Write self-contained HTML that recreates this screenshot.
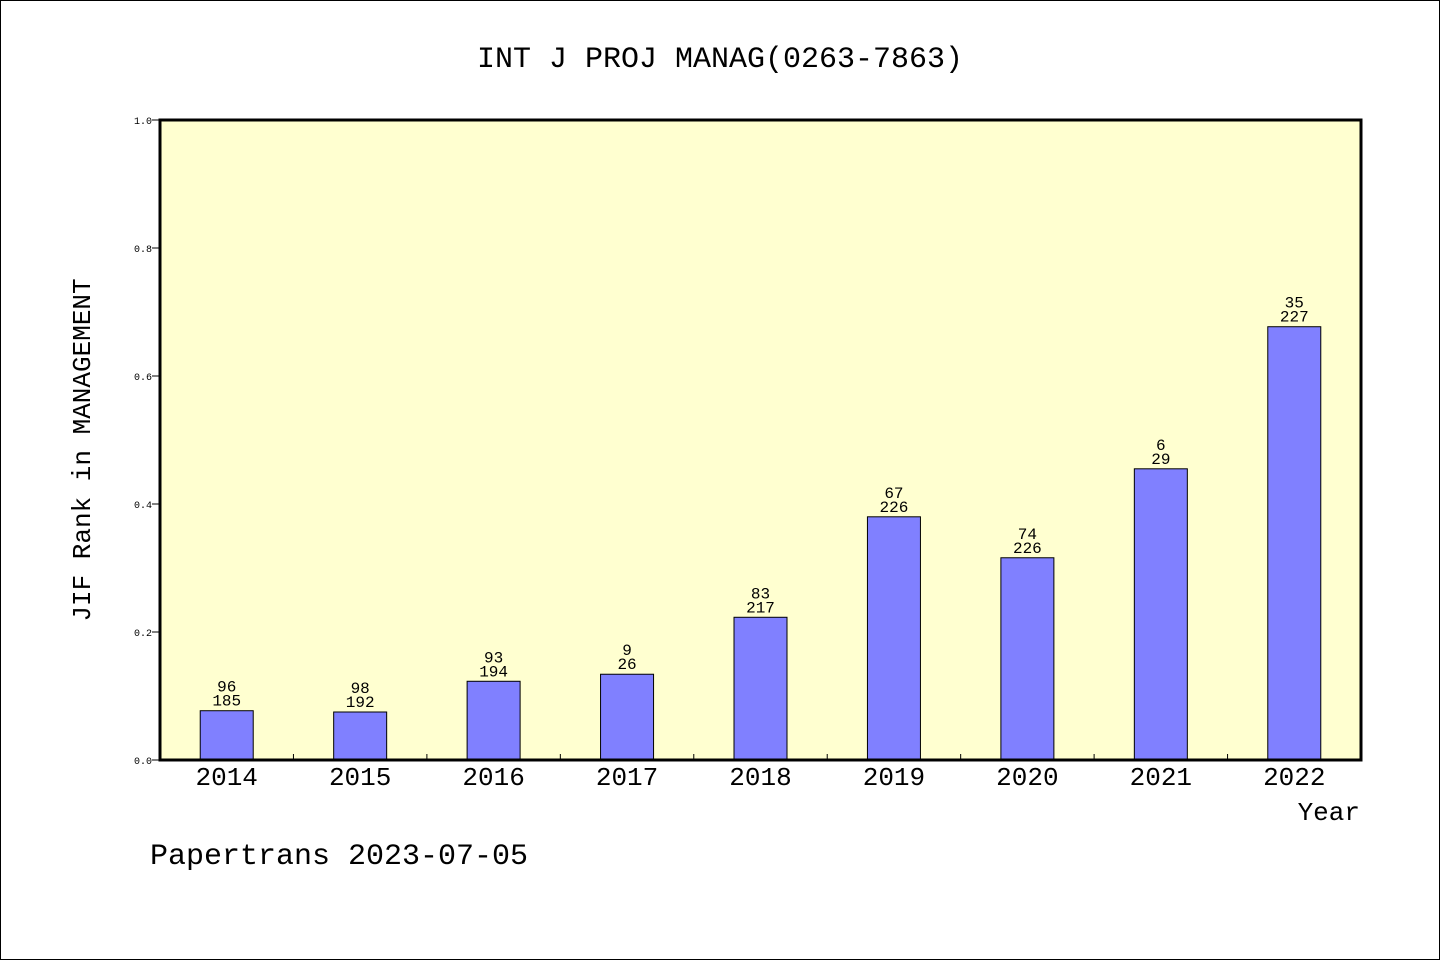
<!DOCTYPE html>
<html><head><meta charset="utf-8"><style>
body{margin:0;background:#fff}
svg{display:block;font-family:"WenQuanYi Zen Hei","Liberation Mono",monospace}
</style></head><body>
<svg id="chart" width="1440" height="960" viewBox="0 0 1440 960">
<rect x="0.5" y="0.5" width="1439" height="959" fill="#fff" stroke="#000"/>
<text x="720" y="67" font-size="30" text-anchor="middle">INT J PROJ MANAG(0263-7863)</text>
<rect x="160" y="120" width="1201" height="640" fill="#ffffd0"/>
<g id="grid"></g>
<g id="bars"></g>
<rect x="160" y="120" width="1201" height="640" fill="none" stroke="#000" stroke-width="3"/>
<text transform="translate(90,450) rotate(-90)" font-size="26" text-anchor="middle">JIF Rank in MANAGEMENT</text>
<text x="1360" y="820" font-size="26" text-anchor="end">Year</text>
<text x="150" y="864" font-size="30">Papertrans 2023-07-05</text>
</svg>
<script>
const categories=["2014","2015","2016","2017","2018","2019","2020","2021","2022"];
const values=[0.077,0.075,0.123,0.134,0.223,0.380,0.316,0.455,0.677];
const ranks=["96","98","93","9","83","67","74","6","35"];
const totals=["185","192","194","26","217","226","226","29","227"];
const yTicks=[0,0.2,0.4,0.6,0.8,1.0];
const tickLabels=["0.0","0.2","0.4","0.6","0.8","1.0"];
const NS="http://www.w3.org/2000/svg";
const x0=160,x1=1361,y0=760,y1=120;
const band=(x1-x0)/categories.length;
const xc=i=>x0+band*(i+0.5);
const ys=v=>y0-(y0-y1)*v;
function mk(tag,attrs,parent){const e=document.createElementNS(NS,tag);for(const k in attrs)e.setAttribute(k,attrs[k]);parent.appendChild(e);return e;}
const g=document.getElementById('grid'),b=document.getElementById('bars');
yTicks.forEach((t,i)=>{
 const l=mk('line',{x1:x0-8,x2:x0,y1:ys(t),y2:ys(t),stroke:'#000'},g);
 
 
 const tx=mk('text',{x:x0-8,y:ys(t)+4,'font-size':10,'text-anchor':'end'},g);
 tx.textContent=tickLabels[i];
 
 
});
for(let i=1;i<categories.length;i++){
 const l=mk('line',{x1:x0+band*i,x2:x0+band*i,y1:y0,y2:y0-6,stroke:'#000'},g);
 
 
}
categories.forEach((c,i)=>{
 const bw=53,top=ys(values[i]);
 const r=mk('rect',{x:xc(i)-bw/2,y:top,width:bw,height:y0-top,fill:'#8080ff',stroke:'#000','stroke-width':1},b);
 
 
 const a=mk('text',{x:xc(i),y:top-19,'font-size':16,'text-anchor':'middle'},b);
 a.textContent=ranks[i];
 
 
 const t=mk('text',{x:xc(i),y:top-5,'font-size':16,'text-anchor':'middle'},b);
 t.textContent=totals[i];
 
 
 const xl=mk('text',{x:xc(i),y:785,'font-size':26,'text-anchor':'middle'},b);
 xl.textContent=c;
 
 
});
</script>
</body></html>
